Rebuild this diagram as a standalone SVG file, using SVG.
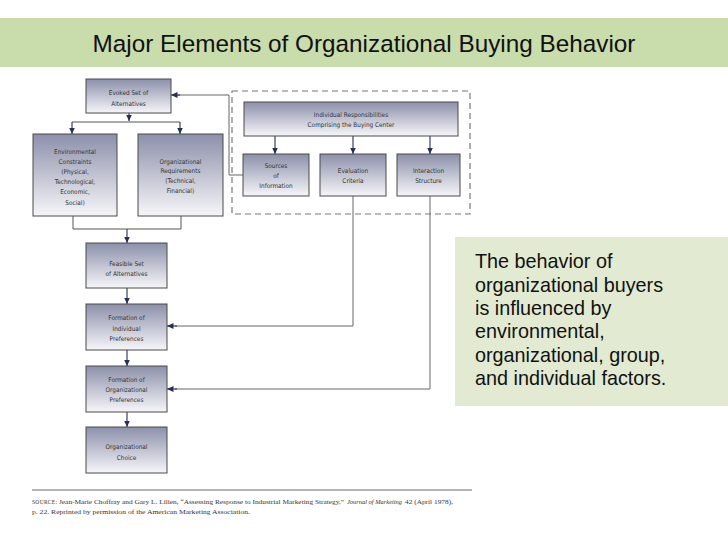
<svg xmlns="http://www.w3.org/2000/svg" width="728" height="546" viewBox="0 0 728 546">
<defs>
<linearGradient id="g" x1="0" y1="0" x2="0" y2="1">
<stop offset="0" stop-color="#8c90aa"/>
<stop offset="1" stop-color="#f6f6f9"/>
</linearGradient>
<marker id="ah" markerUnits="userSpaceOnUse" markerWidth="7" markerHeight="6" refX="6.5" refY="3" orient="auto">
<path d="M0,0 L6.5,3 L0,6 z" fill="#283050"/>
</marker>
<style>
.box{fill:url(#g);stroke:#4a4a4a;stroke-width:1}
.bt{font-family:"Liberation Sans Narrow","DejaVu Sans Condensed","Liberation Sans",sans-serif;font-size:6.4px;fill:#333;text-anchor:middle}
.ar{fill:none;stroke:#283050;stroke-width:1.1;marker-end:url(#ah)}
.ln{fill:none;stroke:#555;stroke-width:1}
.lg{fill:none;stroke:#666;stroke-width:1}
.side{font-family:"Liberation Sans",Arial,sans-serif;font-size:19.8px;fill:#111}
.src{font-family:"Liberation Serif","Times New Roman",serif;font-size:7px;fill:#333}
.sc{font-size:5.5px;letter-spacing:0.3px}
</style>
</defs>
<rect width="728" height="546" fill="#fff"/>
<rect x="0" y="18" width="728" height="49" fill="#c9dcab"/>
<text x="364" y="52" font-family="Liberation Sans, Arial, sans-serif" font-size="24.3" fill="#111" text-anchor="middle">Major Elements of Organizational Buying Behavior</text>

<rect x="232" y="91" width="238" height="123" fill="none" stroke="#777" stroke-width="1.2" stroke-dasharray="6,4"/>

<g id="connectors">
<path class="ar" d="M129,113 V121"/>
<path class="ln" d="M72,122 H180"/>
<path class="ar" d="M72,122 V134"/>
<path class="ar" d="M180,122 V134"/>
<path class="ln" d="M73,216 V229 H181 V216"/>
<path class="ar" d="M127,229 V243"/>
<path class="ar" d="M127,288 V304"/>
<path class="ar" d="M127,350 V366"/>
<path class="ar" d="M127,412 V427"/>
<path class="ar" d="M275,136 V154"/>
<path class="ar" d="M353,136 V154"/>
<path class="ar" d="M430,136 V154"/>
<path class="lg" d="M243,175 H229 V95 H178"/>
<path class="ar" d="M180,95 H171"/>
<path class="lg" d="M353,196 V326 H175"/>
<path class="ar" d="M177,326 H167"/>
<path class="lg" d="M430,196 V389 H175"/>
<path class="ar" d="M177,389 H167"/>
</g>

<g id="evoked"><rect class="box" x="86" y="79" width="85" height="34"/>
<text class="bt" x="128.5" y="94.5">Evoked Set of</text><text class="bt" x="128.5" y="106">Alternatives</text></g>

<g id="environmental"><rect class="box" x="33" y="134" width="84" height="82"/>
<text class="bt" x="75" y="154">Environmental</text><text class="bt" x="75" y="164">Constraints</text><text class="bt" x="75" y="174">(Physical,</text><text class="bt" x="75" y="184">Technological,</text><text class="bt" x="75" y="194">Economic,</text><text class="bt" x="75" y="204.5">Social)</text></g>

<g id="orgreq"><rect class="box" x="138" y="134" width="85" height="82"/>
<text class="bt" x="180.5" y="163.5">Organizational</text><text class="bt" x="180.5" y="173.2">Requirements</text><text class="bt" x="180.5" y="182.9">(Technical,</text><text class="bt" x="180.5" y="192.6">Financial)</text></g>

<g id="individual"><rect class="box" x="244" y="102" width="214" height="34"/>
<text class="bt" x="351" y="117">Individual Responsibilities</text><text class="bt" x="351" y="127">Comprising the Buying Center</text></g>

<g id="sources"><rect class="box" x="243" y="154" width="66" height="42"/>
<text class="bt" x="276" y="167.5">Sources</text><text class="bt" x="276" y="177.8">of</text><text class="bt" x="276" y="188">Information</text></g>

<g id="evaluation"><rect class="box" x="320" y="154" width="66" height="42"/>
<text class="bt" x="353" y="173">Evaluation</text><text class="bt" x="353" y="183">Criteria</text></g>

<g id="interaction"><rect class="box" x="397" y="154" width="63" height="42"/>
<text class="bt" x="428.5" y="173">Interaction</text><text class="bt" x="428.5" y="183">Structure</text></g>

<g id="feasible"><rect class="box" x="86" y="243" width="81" height="45"/>
<text class="bt" x="126.5" y="266">Feasible Set</text><text class="bt" x="126.5" y="276">of Alternatives</text></g>

<g id="formind"><rect class="box" x="86" y="304" width="81" height="46"/>
<text class="bt" x="126.5" y="320">Formation of</text><text class="bt" x="126.5" y="330.5">Individual</text><text class="bt" x="126.5" y="341">Preferences</text></g>

<g id="formorg"><rect class="box" x="86" y="366" width="81" height="46"/>
<text class="bt" x="126.5" y="382">Formation of</text><text class="bt" x="126.5" y="392">Organizational</text><text class="bt" x="126.5" y="402">Preferences</text></g>

<g id="choice"><rect class="box" x="86" y="427" width="81" height="46"/>
<text class="bt" x="126.5" y="449">Organizational</text><text class="bt" x="126.5" y="459.5">Choice</text></g>

<g id="note"><rect x="455" y="237" width="273" height="169" fill="#e2ebd1"/>
<text class="side" x="475" y="268">The behavior of</text>
<text class="side" x="475" y="291.5">organizational buyers</text>
<text class="side" x="475" y="315">is influenced by</text>
<text class="side" x="475" y="338">environmental,</text>
<text class="side" x="475" y="361.5">organizational, group,</text>
<text class="side" x="475" y="385">and individual factors.</text></g>

<g id="source">
<line x1="32" y1="490" x2="472" y2="490" stroke="#9a9a9a" stroke-width="1.5"/>
<text class="src sc" x="32" y="504">SOURCE:</text>
<text class="src" x="59" y="504" textLength="285" lengthAdjust="spacingAndGlyphs">Jean-Marie Choffray and Gary L. Lilien, “Assessing Response to Industrial Marketing Strategy,”</text>
<text class="src" x="347" y="504" font-style="italic" textLength="55" lengthAdjust="spacingAndGlyphs">Journal of Marketing</text>
<text class="src" x="405" y="504" textLength="48" lengthAdjust="spacingAndGlyphs">42 (April 1978),</text>
<text class="src" x="32" y="514" textLength="218" lengthAdjust="spacingAndGlyphs">p. 22. Reprinted by permission of the American Marketing Association.</text>
</g>
</svg>
